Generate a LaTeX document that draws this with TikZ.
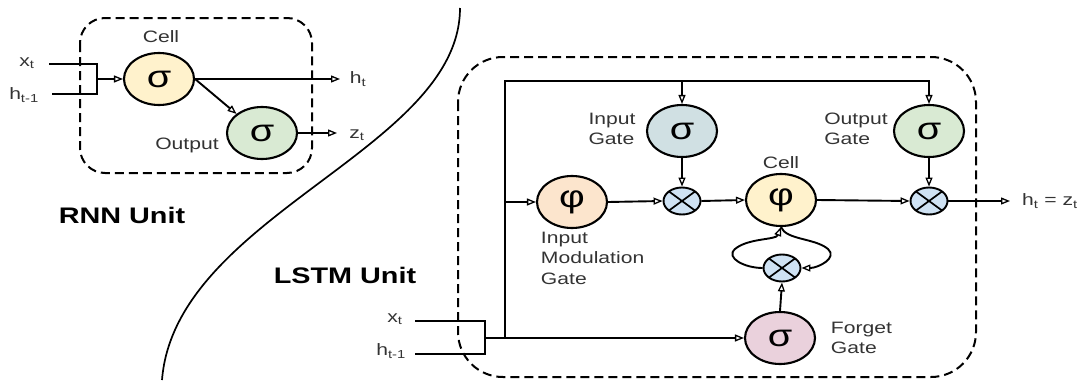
\documentclass[tikz,border=0pt]{standalone}
\usepackage{fontspec}
\setmainfont{Liberation Sans}[FakeStretch=1.28]
\usetikzlibrary{shapes.geometric,arrows.meta,calc}
\definecolor{cellyellow}{HTML}{FFF2CC}
\definecolor{outgreen}{HTML}{D9EAD3}
\definecolor{ingate}{HTML}{D0E0E3}
\definecolor{modorange}{HTML}{FCE5CD}
\definecolor{forgetpink}{HTML}{EAD1DC}
\definecolor{multblue}{HTML}{CFE2F3}
\definecolor{labelgray}{HTML}{333333}
\begin{document}
\begin{tikzpicture}[x=1pt,y=-1pt,line width=1.9pt,
  arr/.style={-{Triangle[open,length=9pt,width=7pt,line width=1.3pt]}},
  gate/.style={ellipse,draw,line width=2.1pt,minimum width=70pt,minimum height=52pt,inner sep=0pt,font=\fontsize{31}{31}\selectfont},
  mult/.style={ellipse,draw,fill=multblue,line width=1.9pt,minimum width=37pt,minimum height=27pt,inner sep=0pt,
    path picture={\draw[line width=1.7pt] (path picture bounding box.north west) -- (path picture bounding box.south east)
      (path picture bounding box.north east) -- (path picture bounding box.south west);}},
  lbl/.style={text=labelgray,font=\fontsize{16.5}{20.5}\selectfont,align=left,inner sep=0pt},
  ttl/.style={font=\fontsize{22.5}{24}\selectfont\bfseries,inner sep=0pt},
  unitbox/.style={draw,dash pattern=on 9pt off 5pt,line width=2pt}
]
\useasboundingbox (0,0) rectangle (1081,380);

% ---------------- RNN unit ----------------
\draw[unitbox,rounded corners=25pt] (80,18) rectangle (312,173);
\node[gate,fill=cellyellow] (rcell) at (159,79) {σ};
\node[gate,fill=outgreen] (rout) at (262,133) {σ};
\node[lbl] (rcelll) at (161,37) {Cell};
\node[lbl] (routl) at (187,145) {Output};
\node[lbl] (rxl) at (27,63) {x\textsubscript{t}};
\node[lbl] (rhl) at (24,95) {h\textsubscript{t-1}};
\node[lbl] (rhtl) at (358,79) {h\textsubscript{t}};
\node[lbl] (rztl) at (357,135) {z\textsubscript{t}};
\coordinate (rxs) at (49,64);
\coordinate (rhs) at (52,94);
\coordinate (rj1) at (97,64);
\coordinate (rj2) at (97,94);
\coordinate (rj) at (97,79);
\coordinate (rhte) at (340,79);
\coordinate (rzte) at (337,133);
\draw (rxs) -- (rj1) -- (rj2) -- (rhs);
\draw[arr] (rj) -- (rcell.west);
\draw[arr] (rcell.east) -- (rhte);
\draw[arr] (rcell.east) -- (rout.north west);
\draw[arr] (rout.east) -- (rzte);
\node[ttl] (rnnt) at (122,215) {RNN Unit};

% ---------------- separator ----------------
\draw[line width=1.7pt] (460,8) .. controls (460,150) and (175,215) .. (162,380);

% ---------------- LSTM unit ----------------
\draw[unitbox,rounded corners=45pt] (458,57) rectangle (976,377);
\node[ttl] (lstmt) at (345,275) {LSTM Unit};

\node[gate,fill=ingate] (ig) at (682,131) {σ};
\node[gate,fill=outgreen] (og) at (929,131) {σ};
\node[gate,fill=modorange] (im) at (572,202) {φ};
\node[gate,fill=cellyellow] (cell) at (781,200) {φ};
\node[gate,fill=forgetpink] (fg) at (780,338) {σ};
\node[mult] (m1) at (682,201) {};
\node[mult] (m2) at (929,201) {};
\node[mult] (m3) at (782,268) {};

\node[lbl] (igl) at (612,129) {Input\\Gate};
\node[lbl] (ogl) at (856,129) {Output\\Gate};
\node[lbl] (celll) at (781,163) {Cell};
\node[lbl,anchor=north west] (iml) at (540,231) {Input\\Modulation\\Gate};
\node[lbl,anchor=west] (fgl) at (830,338) {Forget\\Gate};
\node[lbl] (lxl) at (395,319) {x\textsubscript{t}};
\node[lbl] (lhl) at (391,351) {h\textsubscript{t-1}};
\node[lbl] (hzl) at (1050,201) {h\textsubscript{t} = z\textsubscript{t}};

\coordinate (lxs) at (415,321);
\coordinate (lhs) at (415,354);
\coordinate (lj1) at (485,321);
\coordinate (lj2) at (485,354);
\coordinate (lj) at (485,338);
\coordinate (lb) at (505,338);
\coordinate (lt) at (505,81);
\coordinate (oute) at (1010,201);

\draw (lxs) -- (lj1) -- (lj2) -- (lhs);
\draw[arr] (lj) -- (fg.west);
\draw[arr] (lb) -- (lt) -- (og.north |- lt) -- (og.north);
\draw[arr] (ig.north |- lt) -- (ig.north);
\draw[arr] (im.west -| lt) -- (im.west);
\draw[arr] (im.east) -- (m1.west);
\draw[arr] (ig.south) -- (m1.north);
\draw[arr] (m1.east) -- (cell.west);
\draw[arr] (cell.east) -- (m2.west);
\draw[arr] (og.south) -- (m2.north);
\draw[arr] (m2.east) -- (oute);
\draw[arr] (fg.north) -- (m3.south);
\draw[arr] (m3.west) .. controls (745,268) and (725,258) .. (735,249)
  .. controls (748,238) and (776,240) .. (cell.south);
\draw[arr] (cell.south) .. controls (786,240) and (815,238) .. (828,249)
  .. controls (838,258) and (818,268) .. (m3.east);
\end{tikzpicture}
\end{document}
